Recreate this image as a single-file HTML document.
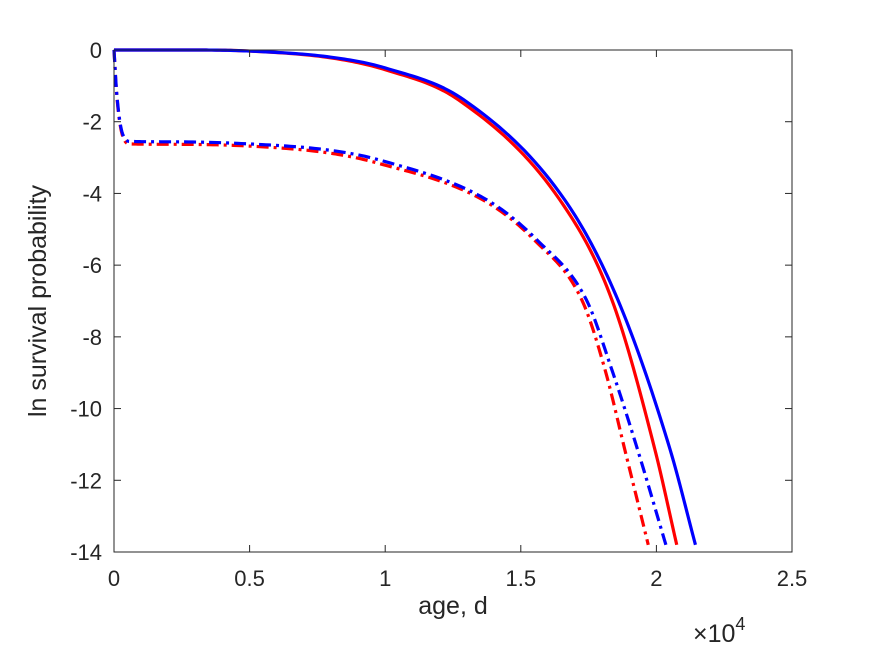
<!DOCTYPE html>
<html><head><meta charset="utf-8"><style>
body{margin:0;background:#fff}
svg text{font-family:"Liberation Sans",sans-serif;fill:#262626}
</style></head><body>
<svg width="875" height="656" xmlns="http://www.w3.org/2000/svg">
<rect width="875" height="656" fill="#fff"/>
<g id="plot"></g>
<g id="axes"></g>
<text transform="translate(46,301) rotate(-90)" text-anchor="middle" font-size="25">ln survival probability</text>
<text x="453" y="614" text-anchor="middle" font-size="25">age, d</text>
<text x="693" y="642" font-size="25">×10<tspan font-size="18" dy="-12">4</tspan></text>
</svg>
<script>
const xTicks=[0,0.5,1,1.5,2,2.5];
const xTickLabels=["0","0.5","1","1.5","2","2.5"];
const yTicks=[0,-2,-4,-6,-8,-10,-12,-14];
const yTickLabels=["0","-2","-4","-6","-8","-10","-12","-14"];
const blueSolidX=[0,0.3,0.5,0.8,1.0,1.29,1.662,1.858,2.05,2.144];
const blueSolidY=[0,0,-0.03,-0.2,-0.5,-1.39,-4.18,-6.97,-11.13,-13.8];
const redSolidX=[0,0.3,0.5,0.8,1.0,1.27,1.644,1.836,1.994,2.075];
const redSolidY=[0,0,-0.03,-0.22,-0.55,-1.39,-4.18,-6.97,-11.13,-13.8];
const blueDashX=[0,0.01,0.03,0.06,0.2,0.5,0.8,0.98,1.375,1.56,1.742,1.835,1.93,2.035];
const blueDashY=[0,-1.2,-2.3,-2.55,-2.56,-2.62,-2.8,-3.07,-4.18,-5.3,-6.97,-8.9,-11.13,-13.8];
const redDashX=[0,0.01,0.03,0.06,0.2,0.5,0.8,0.97,1.36,1.55,1.725,1.81,1.883,1.97];
const redDashY=[0,-1.25,-2.35,-2.62,-2.63,-2.68,-2.88,-3.15,-4.18,-5.3,-6.97,-8.9,-11.13,-13.8];

const X0=114,X1=792,Y0=50,Y1=552;
function sx(v){return X0+(v-0)/(2.5-0)*(X1-X0);}
function sy(v){return Y0+(0-v)/(0-(-14))*(Y1-Y0);}
const NS="http://www.w3.org/2000/svg";
const plot=document.getElementById('plot'),axes=document.getElementById('axes');
function mk(tag,attrs,parent){const e=document.createElementNS(NS,tag);for(const k in attrs)e.setAttribute(k,attrs[k]);parent.appendChild(e);return e;}

// monotone cubic (Fritsch-Carlson) sampled path
function path(xs,ys){
  const n=xs.length,d=[],m=new Array(n);
  for(let i=0;i<n-1;i++)d.push((ys[i+1]-ys[i])/(xs[i+1]-xs[i]));
  m[0]=d[0];m[n-1]=d[n-2];
  for(let i=1;i<n-1;i++){m[i]=(d[i-1]*d[i]<=0)?0:(d[i-1]+d[i])/2;}
  for(let i=0;i<n-1;i++){
    if(d[i]===0){m[i]=0;m[i+1]=0;continue;}
    const a=m[i]/d[i],b=m[i+1]/d[i],s=a*a+b*b;
    if(s>9){const t=3/Math.sqrt(s);m[i]=t*a*d[i];m[i+1]=t*b*d[i];}
  }
  let out="M"+sx(xs[0])+","+sy(ys[0]);
  for(let i=0;i<n-1;i++){
    const h=xs[i+1]-xs[i],steps=20;
    for(let k=1;k<=steps;k++){
      const t=k/steps,t2=t*t,t3=t2*t;
      const y=(2*t3-3*t2+1)*ys[i]+(t3-2*t2+t)*h*m[i]+(-2*t3+3*t2)*ys[i+1]+(t3-t2)*h*m[i+1];
      out+=" L"+sx(xs[i]+t*h).toFixed(2)+","+sy(y).toFixed(2);
    }
  }
  return out;
}
const series=[
  {x:redDashX,y:redDashY,c:"#ff0000",dash:"12,5,3,5",n:"red-dashdot-line"},
  {x:blueDashX,y:blueDashY,c:"#0000ff",dash:"12,5,3,5",n:"blue-dashdot-line"},
  {x:redSolidX,y:redSolidY,c:"#ff0000",dash:"",n:"red-solid-line"},
  {x:blueSolidX,y:blueSolidY,c:"#0000ff",dash:"",n:"blue-solid-line"}
];
series.forEach(s=>{
  const e=mk('path',{d:path(s.x,s.y),fill:"none",stroke:s.c,"stroke-width":3.2,"stroke-linejoin":"round"},plot);
  if(s.dash)e.setAttribute('stroke-dasharray',s.dash);
  
  
});
const box=mk('rect',{x:X0,y:Y0,width:X1-X0,height:Y1-Y0,fill:"none",stroke:"#262626","stroke-width":1},axes);


xTicks.forEach((v,i)=>{
  const x=sx(v);
  mk('line',{x1:x,x2:x,y1:Y1,y2:Y1-7,stroke:"#262626"},axes);
  mk('line',{x1:x,x2:x,y1:Y0,y2:Y0+7,stroke:"#262626"},axes);
  const t=mk('text',{x:x,y:Y1+34,"text-anchor":"middle","font-size":"22"},axes);
  t.textContent=xTickLabels[i];
  
  
});
yTicks.forEach((v,i)=>{
  const y=sy(v);
  mk('line',{x1:X0,x2:X0+7,y1:y,y2:y,stroke:"#262626"},axes);
  mk('line',{x1:X1,x2:X1-7,y1:y,y2:y,stroke:"#262626"},axes);
  const t=mk('text',{x:X0-12,y:y+8,"text-anchor":"end","font-size":"22"},axes);
  t.textContent=yTickLabels[i];
  
  
});
</script>
</body></html>
